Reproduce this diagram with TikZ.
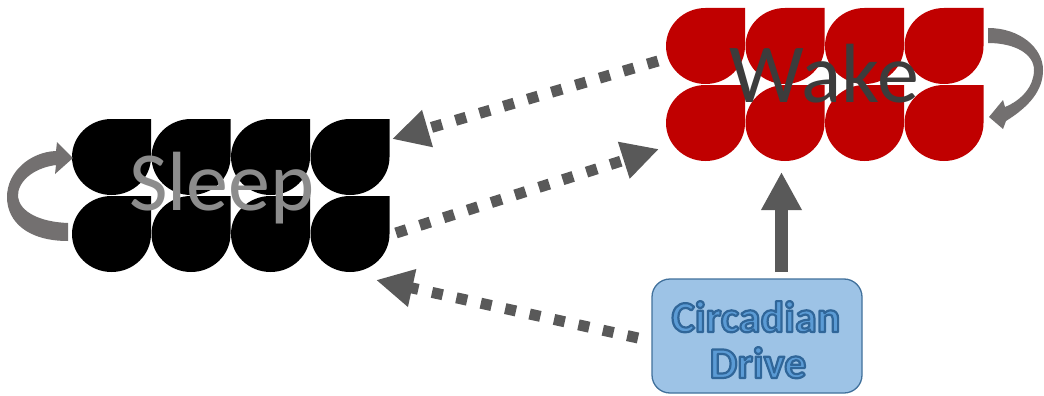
\documentclass[tikz,border=0pt]{standalone}
\usepackage{fontspec}
\setmainfont{Carlito}
\usetikzlibrary{arrows.meta}
\definecolor{dkred}{HTML}{C00000}
\definecolor{arrowgray}{HTML}{595959}
\definecolor{loopgray}{HTML}{737070}
\definecolor{boxfill}{HTML}{9DC3E6}
\definecolor{boxline}{HTML}{41719C}
\definecolor{txtfill}{HTML}{5B9BD5}
\definecolor{sleepgray}{HTML}{8C8C8C}
\definecolor{wakegray}{HTML}{3C3C3C}
\newcommand\outlinedtext[1]{\special{pdf:code q}\textcolor{txtfill}{\special{pdf:code 0.19 0.40 0.60 RG 2.2 w 1 j 2 Tr}#1\special{pdf:code 0 Tr}}\special{pdf:code Q}}
\tikzset{
  pics/drop/.style={code={
    \fill[#1] (79,0) -- (79,38) .. controls (79,59) and (61.3,76) .. (39.5,76)
      .. controls (17.7,76) and (0,59) .. (0,38)
      .. controls (0,17) and (17.7,0) .. (39.5,0) -- cycle;}},
  dotarrow/.style={draw=arrowgray, line width=11pt, dash pattern=on 11pt off 14pt,
    -{Triangle[length=37pt,width=36pt]}},
  solidarrow/.style={draw=arrowgray, line width=13pt, -{Triangle[length=38pt,width=38pt]}},
  biglabel/.style={font=\fontsize{84}{84}\selectfont, inner sep=0pt, anchor=base},
  drivelabel/.style={font=\bfseries\fontsize{44}{46}\selectfont, inner sep=0pt, anchor=base},
  drivebox/.style={draw=boxline, fill=boxfill, line width=1.3pt, rounded corners=18pt,
    minimum width=210pt, minimum height=114pt}
}
\begin{document}
\begin{tikzpicture}[x=1pt,y=-1pt]
\useasboundingbox (0,0) rectangle (1044,396);
\fill[white] (0,0) rectangle (1044,396);

% grids
\foreach \i in {0,...,3}{
  \foreach \j in {0,1}{
    \pic at ({72+79.5*\i},{119+77*\j}) {drop=black};
    \pic at ({666+79.5*\i},{8+77*\j}) {drop=dkred};
  }
}

% labels
\node[biglabel, text=sleepgray] (sleep) at (222,210) {Sleep};
\node[biglabel, text=wakegray] (wake) at (824,102) {Wake};

% self loops
\fill[loopgray] (68,241) .. controls (28,241) and (7,222) .. (7,197)
  .. controls (7,172) and (30,152) .. (56,151)
  -- (57,142) -- (73,158) -- (55,174) -- (56,165)
  .. controls (33,168) and (17,182) .. (18,197)
  .. controls (20,212) and (40,222) .. (68,223) -- cycle;
\fill[loopgray] (988,28) .. controls (1020,28) and (1043,48) .. (1043,70)
  .. controls (1043,90) and (1030,106) .. (1006,121)
  -- (1003,129) -- (989,117) -- (1003,100) -- (1005,107)
  .. controls (1022,100) and (1034,86) .. (1034,70)
  .. controls (1034,54) and (1015,43) .. (988,43) -- cycle;

% circadian box
\node[drivebox] (drive) at (757,336) {};
\node[drivelabel] (drive1) at (756,332) {\outlinedtext{Circadian}};
\node[drivelabel] (drive2) at (758,378) {\outlinedtext{Drive}};

% connector end points
\coordinate (wakeout) at (658,61);
\coordinate (sleepin1) at (392,139);
\coordinate (sleepout) at (396,233);
\coordinate (wakein1) at (659,149);
\coordinate (driveout) at (638,338);
\coordinate (sleepin2) at (376,280);
\coordinate (driveup) at (781.5,272);
\coordinate (wakein2) at (781.5,172);

\draw[dotarrow] (wakeout) -- (sleepin1);
\draw[dotarrow] (sleepout) -- (wakein1);
\draw[dotarrow] (driveout) -- (sleepin2);
\draw[solidarrow] (driveup) -- (wakein2);
\end{tikzpicture}
\end{document}
